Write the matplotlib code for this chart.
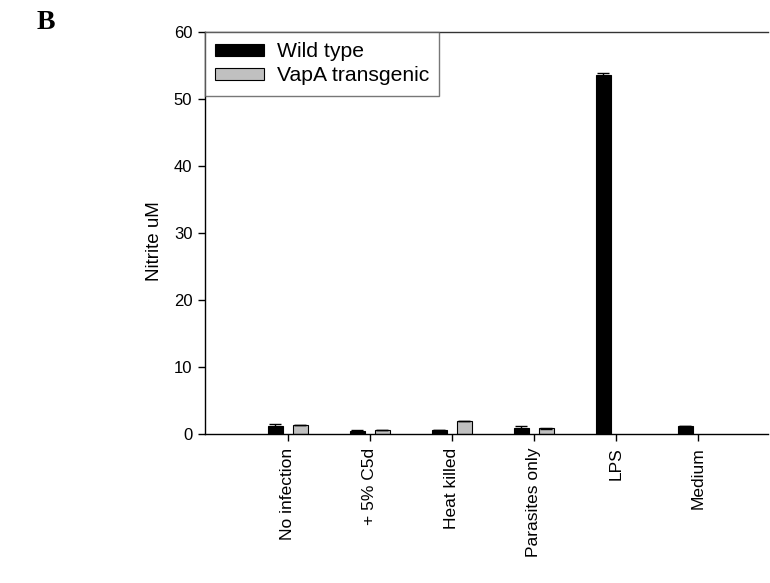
import matplotlib
matplotlib.use("Agg")
import matplotlib.pyplot as plt
import numpy as np

plt.rcParams['font.family'] = ['Liberation Sans', 'DejaVu Sans']

# Nitrite production per treatment
categories = ["No infection", "+ 5% C5d", "Heat killed", "Parasites only", "LPS", "Medium"]
wild_type = [1.14, 0.45, 0.5, 0.8, 53.6, 1.15]
wild_err = [0.37, 0.05, 0.0, 0.3, 0.25, 0.05]
vapa = [1.29, 0.5, 1.95, 0.8, np.nan, np.nan]
vapa_err = [0.05, 0.0, 0.0, 0.12, 0.0, 0.0]

x = np.arange(len(categories))
w = 0.183
off = 0.152

fig = plt.figure(figsize=(7.7, 5.83), dpi=100)
ax = fig.add_axes([0.266, 0.256, 0.732, 0.689])

err_kw = dict(ecolor="black", elinewidth=1.0, capsize=4.3, capthick=1.0)
ax.bar(x - off, wild_type, w, yerr=wild_err, color="black", edgecolor="black",
       linewidth=0.8, label="Wild type", error_kw=err_kw)
ax.bar(x + off, vapa, w, yerr=vapa_err, color="#c0c0c0", edgecolor="black",
       linewidth=0.8, label="VapA transgenic", error_kw=err_kw)

ax.set_xlim(-1.01, 5.86)
ax.set_ylim(0, 60)
ax.set_yticks(range(0, 61, 10))
ax.set_xticks(x)
ax.set_xticklabels(categories, rotation=90, fontsize=12.5)
ax.tick_params(axis="y", labelsize=12, length=5, width=1, pad=4)
ax.tick_params(axis="x", length=5, width=1, pad=5)
ax.set_ylabel("Nitrite uM", fontsize=13.5)
ax.yaxis.set_label_coords(-0.074, 0.48)

ax.spines["right"].set_visible(False)
for s in ["left", "bottom", "top"]:
    ax.spines[s].set_linewidth(1.0)
ax.spines["top"].set_color("#333333")

leg = ax.legend(loc="upper left", bbox_to_anchor=(0, 1), borderaxespad=0,
                fontsize=15.2, frameon=True, fancybox=False, edgecolor="#555555",
                handlelength=2.3, handleheight=0.5, handletextpad=0.62,
                labelspacing=0.25, borderpad=0.48)
leg.get_frame().set_linewidth(1.0)

fig.text(0.047, 0.962, "B", fontsize=20, fontweight="bold",
         family="Liberation Serif", ha="left", va="center")

fig.savefig("out.png", dpi=100)
